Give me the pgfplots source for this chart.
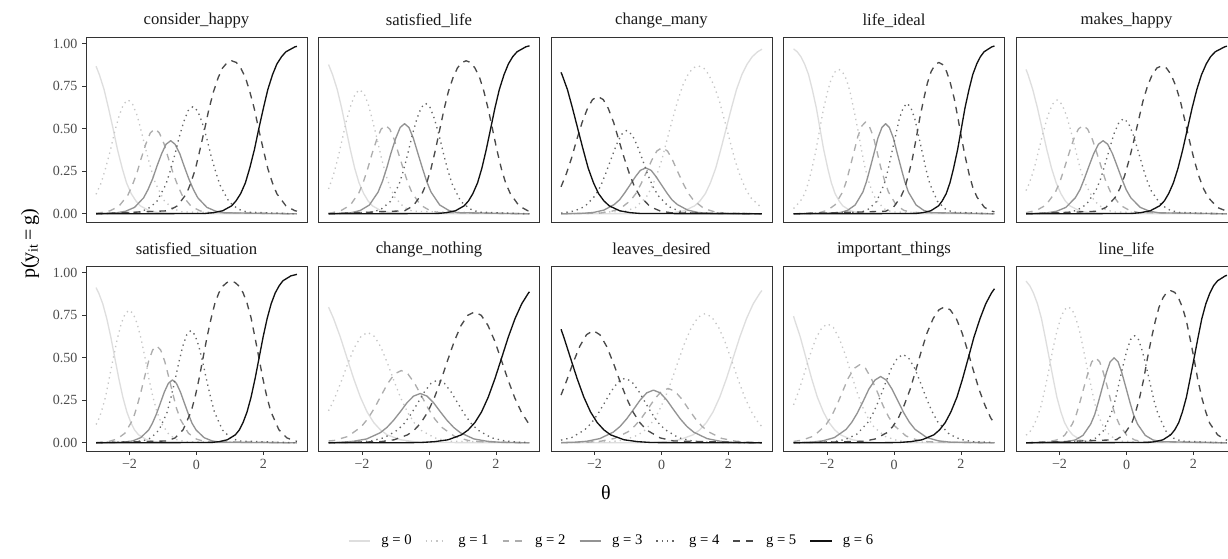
\documentclass[border=0pt]{standalone}
\usepackage{fontspec}
\setmainfont{Liberation Serif}
\usepackage{pgfplots}
\pgfplotsset{compat=1.18}

\definecolor{c0}{HTML}{DEDEDE}
\definecolor{c1}{HTML}{C6C6C6}
\definecolor{c2}{HTML}{ADADAD}
\definecolor{c3}{HTML}{939393}
\definecolor{c4}{HTML}{666666}
\definecolor{c5}{HTML}{4A4A4A}
\definecolor{c6}{HTML}{111111}

\tikzset{
  gl/.style={line width=1pt, line join=round},
  g0/.style={gl, c0},
  g1/.style={gl, c1, dash pattern=on 1pt off 3pt},
  g2/.style={gl, c2, dash pattern=on 5pt off 4.5pt},
  g3/.style={gl, c3},
  g4/.style={gl, c4, dash pattern=on 1pt off 3pt},
  g5/.style={gl, c5, dash pattern=on 5pt off 4.5pt},
  g6/.style={gl, c6},
}

\pgfplotsset{
  panel/.style={
    scale only axis, width=165.75pt, height=138.75pt,
    xmin=-3.3, xmax=3.3, ymin=-0.048, ymax=1.04,
    axis line style={draw=black!80, line width=0.6pt},
    tick pos=left, tick align=outside, major tick length=3pt,
    tick style={black!80, line width=0.5pt},
    xtick={-2,0,2}, xticklabels={−2,0,2},
    ytick={0,0.25,0.5,0.75,1}, yticklabels={0.00,0.25,0.50,0.75,1.00},
    ticklabel style={font=\fontsize{10.5}{12}\selectfont, text=black!70},
    /pgf/number format/assume math mode=true,
    title style={at={(0.5,1)}, anchor=center, yshift=6pt, inner sep=0pt,
      font=\fontsize{12.5}{14}\selectfont, text=black!90},
    clip=false,
  },
  noxt/.style={xtick=\empty},
  noyt/.style={ytick=\empty},
}

\begin{document}
\begin{tikzpicture}
\path[use as bounding box] (0,0) rectangle (921pt,419.25pt);

% ---------------- row 1 ----------------
\begin{axis}[panel, noxt, at={(64.5pt,391.5pt)}, anchor=north west, title={consider\_happy}]
\addplot[g0] coordinates {(-3,.868)(-2.90,.818)(-2.76,.731)(-2.63,.623)(-2.49,.5)(-2.36,.378)(-2.22,.269)(-2.09,.182)(-1.95,.119)(-1.81,.076)(-1.68,.047)(-1.41,.018)(-1.14,.007)(-0.87,.002)(3,0)};
\addplot[g1] coordinates {(-3,.115)(-2.85,.181)(-2.72,.265)(-2.58,.367)(-2.45,.478)(-2.31,.577)(-2.18,.645)(-2.04,.670)(-1.91,.645)(-1.77,.577)(-1.64,.478)(-1.50,.367)(-1.36,.265)(-1.23,.181)(-0.96,.076)(-0.69,.029)(-0.42,.011)(3,0)};
\addplot[g2] coordinates {(-3,.004)(-2.86,.007)(-2.59,.017)(-2.32,.044)(-2.05,.110)(-1.92,.166)(-1.78,.240)(-1.65,.327)(-1.51,.412)(-1.38,.476)(-1.24,.500)(-1.11,.476)(-0.97,.412)(-0.84,.327)(-0.70,.240)(-0.56,.166)(-0.43,.110)(-0.16,.044)(0.11,.017)(0.38,.007)(3,0)};
\addplot[g3] coordinates {(-3,.001)(-2.39,.006)(-2.12,.015)(-1.85,.038)(-1.58,.094)(-1.45,.142)(-1.31,.206)(-1.18,.281)(-1.04,.354)(-0.91,.409)(-0.77,.430)(-0.64,.409)(-0.50,.354)(-0.37,.281)(-0.23,.206)(-0.09,.142)(0.04,.094)(0.31,.038)(0.58,.015)(0.85,.006)(3,0)};
\addplot[g4] coordinates {(-3,0)(-1.73,.010)(-1.46,.028)(-1.19,.071)(-0.92,.170)(-0.79,.249)(-0.65,.345)(-0.52,.449)(-0.38,.542)(-0.25,.607)(-0.11,.630)(0.03,.607)(0.16,.542)(0.30,.449)(0.43,.345)(0.57,.249)(0.70,.170)(0.97,.071)(1.24,.028)(1.51,.010)(3,0)};
\addplot[g5] coordinates {(-3,0)(-0.84,.018)(-0.57,.047)(-0.30,.118)(-0.17,.181)(-0.03,.266)(0.10,.374)(0.24,.495)(0.37,.615)(0.51,.720)(0.65,.802)(0.78,.858)(0.92,.890)(1.05,.900)(1.19,.890)(1.32,.858)(1.46,.802)(1.59,.720)(1.73,.615)(1.86,.495)(2.00,.374)(2.13,.266)(2.27,.181)(2.40,.118)(2.67,.047)(2.94,.018)(3,.016)};
\addplot[g6] coordinates {(-3,0)(0.24,.002)(0.51,.007)(0.78,.018)(1.05,.047)(1.18,.076)(1.32,.119)(1.46,.182)(1.59,.269)(1.73,.378)(1.86,.5)(2.00,.623)(2.13,.731)(2.27,.818)(2.40,.881)(2.54,.924)(2.67,.953)(2.94,.982)(3,.985)};
\end{axis}

\begin{axis}[panel, noxt, noyt, at={(238.875pt,391.5pt)}, anchor=north west, title={satisfied\_life}]
\addplot[g0] coordinates {(-3,.878)(-2.88,.818)(-2.74,.731)(-2.61,.623)(-2.48,.5)(-2.35,.378)(-2.22,.269)(-2.09,.182)(-1.95,.119)(-1.82,.076)(-1.69,.047)(-1.43,.018)(-1.16,.007)(-0.90,.002)(3,0)};
\addplot[g1] coordinates {(-3,.146)(-2.86,.224)(-2.73,.320)(-2.60,.431)(-2.47,.545)(-2.33,.642)(-2.20,.707)(-2.07,.730)(-1.94,.707)(-1.81,.642)(-1.68,.545)(-1.54,.431)(-1.41,.320)(-1.28,.224)(-1.15,.150)(-1.02,.097)(-0.75,.039)(-0.49,.015)(3,0)};
\addplot[g2] coordinates {(-3,.004)(-2.88,.007)(-2.62,.020)(-2.35,.051)(-2.09,.125)(-1.96,.187)(-1.83,.266)(-1.70,.354)(-1.56,.438)(-1.43,.498)(-1.30,.520)(-1.17,.498)(-1.04,.438)(-0.91,.354)(-0.77,.266)(-0.64,.187)(-0.51,.125)(-0.25,.051)(0.02,.020)(0.28,.007)(3,0)};
\addplot[g3] coordinates {(-3,0)(-2.31,.007)(-2.05,.020)(-1.78,.052)(-1.52,.128)(-1.39,.191)(-1.26,.271)(-1.13,.361)(-0.99,.446)(-0.86,.508)(-0.73,.530)(-0.60,.508)(-0.47,.446)(-0.34,.361)(-0.20,.271)(-0.07,.191)(0.06,.128)(0.32,.052)(0.59,.020)(0.85,.007)(3,0)};
\addplot[g4] coordinates {(-3,0)(-1.68,.010)(-1.42,.029)(-1.15,.073)(-0.89,.176)(-0.76,.257)(-0.63,.356)(-0.50,.463)(-0.36,.560)(-0.23,.626)(-0.10,.650)(0.03,.626)(0.16,.560)(0.30,.463)(0.43,.356)(0.56,.257)(0.69,.176)(0.95,.073)(1.22,.029)(1.48,.010)(3,0)};
\addplot[g5] coordinates {(-3,0)(-0.73,.018)(-0.47,.047)(-0.21,.118)(-0.07,.181)(0.06,.266)(0.19,.374)(0.32,.495)(0.45,.615)(0.58,.720)(0.72,.802)(0.85,.858)(0.98,.890)(1.11,.900)(1.24,.890)(1.37,.858)(1.51,.802)(1.64,.720)(1.77,.615)(1.90,.495)(2.03,.374)(2.16,.266)(2.29,.181)(2.43,.118)(2.69,.047)(2.95,.018)(3,.016)};
\addplot[g6] coordinates {(-3,0)(0.26,.002)(0.52,.007)(0.79,.018)(1.05,.047)(1.18,.076)(1.31,.119)(1.45,.182)(1.58,.269)(1.71,.378)(1.84,.5)(1.97,.623)(2.10,.731)(2.24,.818)(2.37,.881)(2.50,.924)(2.63,.953)(2.89,.982)(3,.988)};
\end{axis}

\begin{axis}[panel, noxt, noyt, at={(413.25pt,391.5pt)}, anchor=north west, title={change\_many}]
\addplot[g0] coordinates {(-3,0)(0.06,.002)(0.37,.007)(0.68,.018)(0.99,.047)(1.15,.076)(1.31,.119)(1.46,.182)(1.62,.269)(1.77,.378)(1.93,.5)(2.09,.623)(2.24,.731)(2.40,.818)(2.56,.881)(2.71,.924)(2.87,.953)(3,.968)};
\addplot[g1] coordinates {(-3,0)(-1.09,.015)(-0.78,.037)(-0.46,.096)(-0.31,.148)(-0.15,.222)(0.01,.318)(0.16,.431)(0.32,.551)(0.48,.662)(0.63,.753)(0.79,.819)(0.94,.858)(1.10,.870)(1.26,.858)(1.41,.819)(1.57,.753)(1.73,.662)(1.88,.551)(2.04,.431)(2.19,.318)(2.35,.222)(2.51,.148)(2.66,.096)(2.98,.037)(3,.036)};
\addplot[g2] coordinates {(-3,0)(-1.86,.004)(-1.54,.012)(-1.23,.031)(-0.92,.079)(-0.76,.121)(-0.61,.177)(-0.45,.245)(-0.29,.316)(-0.14,.369)(0.02,.390)(0.18,.369)(0.33,.316)(0.49,.245)(0.65,.177)(0.80,.121)(0.96,.079)(1.27,.031)(1.58,.012)(1.90,.004)(3,0)};
\addplot[g3] coordinates {(-3,0)(-2.35,.003)(-2.03,.008)(-1.72,.022)(-1.41,.055)(-1.25,.083)(-1.10,.123)(-0.94,.170)(-0.78,.218)(-0.63,.256)(-0.47,.270)(-0.31,.256)(-0.16,.218)(0.00,.170)(0.16,.123)(0.31,.083)(0.47,.055)(0.78,.022)(1.09,.008)(1.41,.003)(3,0)};
\addplot[g4] coordinates {(-3,.005)(-2.92,.006)(-2.60,.017)(-2.29,.043)(-1.98,.107)(-1.82,.162)(-1.67,.235)(-1.51,.320)(-1.35,.404)(-1.20,.466)(-1.04,.490)(-0.88,.466)(-0.73,.404)(-0.57,.320)(-0.42,.235)(-0.26,.162)(-0.10,.107)(0.21,.043)(0.52,.017)(0.84,.006)(3,0)};
\addplot[g5] coordinates {(-3,.159)(-2.84,.237)(-2.68,.332)(-2.53,.437)(-2.37,.538)(-2.21,.620)(-2.06,.672)(-1.90,.690)(-1.74,.672)(-1.59,.620)(-1.43,.538)(-1.28,.437)(-1.12,.332)(-0.96,.237)(-0.81,.161)(-0.65,.106)(-0.34,.042)(-0.03,.016)(0.29,.006)(3,0)};
\addplot[g6] coordinates {(-3,.832)(-2.97,.818)(-2.81,.731)(-2.66,.623)(-2.50,.5)(-2.34,.378)(-2.19,.269)(-2.03,.182)(-1.88,.119)(-1.72,.076)(-1.56,.047)(-1.25,.018)(-0.94,.007)(-0.63,.002)(3,0)};
\end{axis}

\begin{axis}[panel, noxt, noyt, at={(587.625pt,391.5pt)}, anchor=north west, title={life\_ideal}]
\addplot[g0] coordinates {(-3,.970)(-2.89,.953)(-2.78,.924)(-2.67,.881)(-2.55,.818)(-2.44,.731)(-2.32,.623)(-2.21,.5)(-2.10,.378)(-1.98,.269)(-1.87,.182)(-1.76,.119)(-1.64,.076)(-1.53,.047)(-1.30,.018)(-1.07,.007)(-0.85,.002)(3,0)};
\addplot[g1] coordinates {(-3,.031)(-2.79,.076)(-2.67,.118)(-2.56,.181)(-2.45,.267)(-2.33,.374)(-2.22,.495)(-2.11,.613)(-1.99,.715)(-1.88,.790)(-1.76,.835)(-1.65,.850)(-1.54,.835)(-1.42,.790)(-1.31,.715)(-1.20,.613)(-1.08,.495)(-0.97,.374)(-0.86,.267)(-0.74,.181)(-0.63,.118)(-0.51,.076)(-0.29,.029)(-0.06,.011)(3,0)};
\addplot[g2] coordinates {(-3,0)(-2.21,.008)(-1.99,.021)(-1.76,.053)(-1.53,.130)(-1.42,.194)(-1.31,.276)(-1.19,.368)(-1.08,.455)(-0.96,.517)(-0.85,.540)(-0.74,.517)(-0.62,.455)(-0.51,.368)(-0.40,.276)(-0.28,.194)(-0.17,.130)(0.06,.053)(0.29,.021)(0.51,.008)(3,0)};
\addplot[g3] coordinates {(-3,0)(-1.61,.007)(-1.39,.020)(-1.16,.052)(-0.93,.128)(-0.82,.191)(-0.71,.271)(-0.59,.361)(-0.48,.446)(-0.36,.508)(-0.25,.530)(-0.14,.508)(-0.02,.446)(0.09,.361)(0.21,.271)(0.32,.191)(0.43,.128)(0.66,.052)(0.89,.020)(1.11,.007)(3,0)};
\addplot[g4] coordinates {(-3,0)(-0.97,.010)(-0.75,.029)(-0.52,.073)(-0.29,.176)(-0.18,.257)(-0.07,.356)(0.05,.463)(0.16,.560)(0.28,.626)(0.39,.650)(0.50,.626)(0.62,.560)(0.73,.463)(0.85,.356)(0.96,.257)(1.07,.176)(1.30,.073)(1.53,.029)(1.75,.010)(3,0)};
\addplot[g5] coordinates {(-3,0)(-0.25,.015)(-0.02,.038)(0.20,.098)(0.32,.151)(0.43,.227)(0.55,.325)(0.66,.441)(0.77,.563)(0.89,.677)(1.00,.771)(1.11,.837)(1.23,.878)(1.34,.890)(1.45,.878)(1.57,.837)(1.68,.771)(1.80,.677)(1.91,.563)(2.02,.441)(2.14,.325)(2.25,.227)(2.36,.151)(2.48,.098)(2.70,.038)(2.93,.015)(3,.012)};
\addplot[g6] coordinates {(-3,0)(0.65,.002)(0.87,.007)(1.10,.018)(1.33,.047)(1.44,.076)(1.56,.119)(1.67,.182)(1.78,.269)(1.90,.378)(2.01,.5)(2.12,.623)(2.24,.731)(2.35,.818)(2.47,.881)(2.58,.924)(2.69,.953)(2.92,.982)(3,.987)};
\end{axis}

\begin{axis}[panel, noxt, noyt, at={(762pt,391.5pt)}, anchor=north west, title={makes\_happy}]
\addplot[g0] coordinates {(-3,.849)(-2.94,.818)(-2.80,.731)(-2.66,.623)(-2.52,.5)(-2.38,.378)(-2.24,.269)(-2.10,.182)(-1.96,.119)(-1.83,.076)(-1.69,.047)(-1.41,.018)(-1.13,.007)(-0.85,.002)(3,0)};
\addplot[g1] coordinates {(-3,.137)(-2.90,.181)(-2.76,.265)(-2.63,.367)(-2.49,.478)(-2.35,.577)(-2.21,.645)(-2.07,.670)(-1.93,.645)(-1.79,.577)(-1.65,.478)(-1.51,.367)(-1.38,.265)(-1.24,.181)(-0.96,.076)(-0.68,.029)(-0.40,.011)(3,0)};
\addplot[g2] coordinates {(-3,.007)(-2.69,.020)(-2.41,.051)(-2.13,.125)(-1.99,.187)(-1.86,.266)(-1.72,.354)(-1.58,.438)(-1.44,.498)(-1.30,.520)(-1.16,.498)(-1.02,.438)(-0.88,.354)(-0.74,.266)(-0.61,.187)(-0.47,.125)(-0.19,.051)(0.09,.020)(0.37,.007)(3,0)};
\addplot[g3] coordinates {(-3,0)(-2.37,.006)(-2.09,.015)(-1.81,.038)(-1.53,.094)(-1.39,.142)(-1.26,.206)(-1.12,.281)(-0.98,.354)(-0.84,.409)(-0.70,.430)(-0.56,.409)(-0.42,.354)(-0.28,.281)(-0.14,.206)(-0.01,.142)(0.13,.094)(0.41,.038)(0.69,.015)(0.97,.006)(3,0)};
\addplot[g4] coordinates {(-3,0)(-1.76,.008)(-1.48,.021)(-1.20,.055)(-0.92,.135)(-0.78,.202)(-0.65,.286)(-0.51,.381)(-0.37,.472)(-0.23,.536)(-0.09,.560)(0.05,.536)(0.19,.472)(0.33,.381)(0.47,.286)(0.60,.202)(0.74,.135)(1.02,.055)(1.30,.021)(1.58,.008)(3,0)};
\addplot[g5] coordinates {(-3,0)(-0.89,.015)(-0.62,.037)(-0.34,.096)(-0.20,.148)(-0.06,.222)(0.08,.318)(0.22,.431)(0.36,.551)(0.49,.662)(0.63,.753)(0.77,.819)(0.91,.858)(1.05,.870)(1.19,.858)(1.33,.819)(1.47,.753)(1.61,.662)(1.74,.551)(1.88,.431)(2.02,.318)(2.16,.222)(2.30,.148)(2.44,.096)(2.72,.037)(3,.015)};
\addplot[g6] coordinates {(-3,0)(0.15,.002)(0.43,.007)(0.71,.018)(0.99,.047)(1.13,.076)(1.26,.119)(1.40,.182)(1.54,.269)(1.68,.378)(1.82,.5)(1.96,.623)(2.10,.731)(2.24,.818)(2.38,.881)(2.51,.924)(2.65,.953)(2.93,.982)(3,.986)};
\end{axis}

% ---------------- row 2 ----------------
\begin{axis}[panel, at={(64.5pt,219.75pt)}, anchor=north west, title={satisfied\_situation},
  legend style={at={(2.380,-0.4865)}, anchor=center, draw=none, fill=none,
    legend columns=7, font=\fontsize{11}{13}\selectfont,
    /tikz/every odd column/.append style={column sep=6pt},
    /tikz/every even column/.append style={column sep=8pt}},
  legend image code/.code={\draw[#1] (0pt,0pt) -- (16pt,0pt);}]
\addplot[g0] coordinates {(-3,.913)(-2.92,.881)(-2.80,.818)(-2.68,.731)(-2.56,.623)(-2.44,.5)(-2.32,.378)(-2.20,.269)(-2.08,.182)(-1.96,.119)(-1.85,.076)(-1.73,.047)(-1.49,.018)(-1.25,.007)(-1.01,.002)(3,0)};
\addlegendentry{g = 0}
\addplot[g1] coordinates {(-3,.108)(-2.96,.119)(-2.84,.183)(-2.72,.268)(-2.61,.375)(-2.49,.494)(-2.37,.608)(-2.25,.700)(-2.13,.760)(-2.01,.780)(-1.89,.760)(-1.77,.700)(-1.65,.608)(-1.53,.494)(-1.42,.375)(-1.30,.268)(-1.18,.183)(-1.06,.119)(-0.82,.048)(-0.58,.018)(-0.34,.007)(3,0)};
\addlegendentry{g = 1}
\addplot[g2] coordinates {(-3,.002)(-2.62,.008)(-2.38,.022)(-2.14,.056)(-1.90,.137)(-1.79,.205)(-1.67,.291)(-1.55,.388)(-1.43,.480)(-1.31,.546)(-1.19,.570)(-1.07,.546)(-0.95,.480)(-0.83,.388)(-0.71,.291)(-0.60,.205)(-0.48,.137)(-0.24,.056)(0.00,.022)(0.24,.008)(3,0)};
\addlegendentry{g = 2}
\addplot[g3] coordinates {(-3,0)(-2.15,.004)(-1.91,.011)(-1.67,.030)(-1.43,.075)(-1.32,.114)(-1.20,.168)(-1.08,.233)(-0.96,.299)(-0.84,.350)(-0.72,.370)(-0.60,.350)(-0.48,.299)(-0.36,.233)(-0.24,.168)(-0.13,.114)(-0.01,.075)(0.23,.030)(0.47,.011)(0.71,.004)(3,0)};
\addlegendentry{g = 3}
\addplot[g4] coordinates {(-3,0)(-1.60,.011)(-1.36,.029)(-1.12,.075)(-0.88,.178)(-0.77,.261)(-0.65,.362)(-0.53,.471)(-0.41,.568)(-0.29,.636)(-0.17,.660)(-0.05,.636)(0.07,.568)(0.19,.471)(0.31,.362)(0.43,.261)(0.54,.178)(0.78,.075)(1.02,.029)(1.26,.011)(3,0)};
\addlegendentry{g = 4}
\addplot[g5] coordinates {(-3,0)(-0.88,.011)(-0.64,.029)(-0.40,.077)(-0.16,.184)(-0.04,.271)(0.08,.380)(0.20,.504)(0.32,.627)(0.44,.735)(0.55,.821)(0.67,.883)(0.79,.922)(0.91,.943)(1.03,.950)(1.15,.943)(1.27,.922)(1.39,.883)(1.51,.821)(1.63,.735)(1.74,.627)(1.86,.504)(1.98,.380)(2.10,.271)(2.22,.184)(2.46,.077)(2.70,.029)(2.94,.011)(3,.009)};
\addlegendentry{g = 5}
\addplot[g6] coordinates {(-3,0)(0.44,.002)(0.68,.007)(0.92,.018)(1.16,.047)(1.28,.076)(1.39,.119)(1.51,.182)(1.63,.269)(1.75,.378)(1.87,.5)(1.99,.623)(2.11,.731)(2.23,.818)(2.35,.881)(2.47,.924)(2.58,.953)(2.82,.982)(3,.991)};
\addlegendentry{g = 6}
\end{axis}

\begin{axis}[panel, noyt, at={(238.875pt,219.75pt)}, anchor=north west, title={change\_nothing}]
\addplot[g0] coordinates {(-3,.798)(-2.85,.731)(-2.65,.623)(-2.45,.5)(-2.25,.378)(-2.05,.269)(-1.85,.182)(-1.65,.119)(-1.45,.076)(-1.25,.047)(-0.85,.018)(-0.45,.007)(-0.05,.002)(3,0)};
\addplot[g1] coordinates {(-3,.188)(-2.83,.257)(-2.63,.356)(-2.43,.463)(-2.23,.560)(-2.03,.626)(-1.83,.650)(-1.63,.626)(-1.43,.560)(-1.23,.463)(-1.03,.356)(-0.83,.257)(-0.63,.176)(-0.43,.115)(-0.23,.073)(0.17,.029)(0.57,.010)(3,0)};
\addplot[g2] coordinates {(-3,.011)(-2.83,.014)(-2.43,.037)(-2.03,.093)(-1.83,.141)(-1.63,.204)(-1.43,.278)(-1.23,.350)(-1.03,.405)(-0.83,.425)(-0.63,.405)(-0.43,.350)(-0.23,.278)(-0.03,.204)(0.17,.141)(0.37,.093)(0.77,.037)(1.17,.014)(1.57,.006)(3,0)};
\addplot[g3] coordinates {(-3,.001)(-2.66,.003)(-2.26,.009)(-1.86,.023)(-1.46,.059)(-1.26,.090)(-1.06,.132)(-0.86,.182)(-0.66,.235)(-0.46,.275)(-0.26,.290)(-0.06,.275)(0.14,.235)(0.34,.182)(0.54,.132)(0.74,.090)(0.94,.059)(1.34,.023)(1.74,.009)(2.14,.003)(3,0)};
\addplot[g4] coordinates {(-3,0)(-2.14,.004)(-1.74,.011)(-1.34,.030)(-0.94,.075)(-0.74,.114)(-0.54,.168)(-0.34,.233)(-0.14,.299)(0.06,.350)(0.26,.370)(0.46,.350)(0.66,.299)(0.86,.233)(1.06,.168)(1.26,.114)(1.46,.075)(1.86,.030)(2.26,.011)(2.66,.004)(3,.002)};
\addplot[g5] coordinates {(-3,0)(-1.44,.007)(-1.04,.018)(-0.64,.047)(-0.44,.075)(-0.24,.118)(-0.04,.180)(0.16,.265)(0.36,.370)(0.56,.487)(0.76,.600)(0.96,.691)(1.16,.750)(1.36,.770)(1.56,.750)(1.76,.691)(1.96,.600)(2.16,.487)(2.36,.370)(2.56,.265)(2.76,.180)(2.96,.118)(3,.109)};
\addplot[g6] coordinates {(-3,0)(-0.63,.001)(-0.23,.002)(0.17,.007)(0.57,.018)(0.97,.047)(1.17,.076)(1.37,.119)(1.57,.182)(1.77,.269)(1.97,.378)(2.17,.5)(2.37,.623)(2.57,.731)(2.77,.818)(2.97,.881)(3,.888)};
\end{axis}

\begin{axis}[panel, noyt, at={(413.25pt,219.75pt)}, anchor=north west, title={leaves\_desired}]
\addplot[g0] coordinates {(-3,0)(-0.66,.001)(-0.26,.002)(0.14,.007)(0.54,.018)(0.94,.047)(1.14,.076)(1.34,.119)(1.54,.182)(1.74,.269)(1.94,.378)(2.14,.5)(2.34,.623)(2.54,.731)(2.74,.818)(2.94,.881)(3,.896)};
\addplot[g1] coordinates {(-3,0)(-1.50,.007)(-1.10,.017)(-0.70,.046)(-0.50,.074)(-0.30,.116)(-0.10,.178)(0.10,.261)(0.30,.366)(0.50,.481)(0.70,.592)(0.90,.682)(1.10,.740)(1.30,.760)(1.50,.740)(1.70,.682)(1.90,.592)(2.10,.481)(2.30,.366)(2.50,.261)(2.70,.178)(2.90,.116)(3,.095)};
\addplot[g2] coordinates {(-3,0)(-2.20,.004)(-1.80,.010)(-1.40,.026)(-1.00,.065)(-0.80,.099)(-0.60,.145)(-0.40,.201)(-0.20,.259)(0.00,.303)(0.20,.320)(0.40,.303)(0.60,.259)(0.80,.201)(1.00,.145)(1.20,.099)(1.40,.065)(1.80,.026)(2.20,.010)(2.60,.004)(3,.002)};
\addplot[g3] coordinates {(-3,.002)(-2.64,.003)(-2.24,.009)(-1.84,.025)(-1.44,.063)(-1.24,.096)(-1.04,.141)(-0.84,.195)(-0.64,.251)(-0.44,.294)(-0.24,.310)(-0.04,.294)(0.16,.251)(0.36,.195)(0.56,.141)(0.76,.096)(0.96,.063)(1.36,.025)(1.76,.009)(2.16,.003)(3,0)};
\addplot[g4] coordinates {(-3,.016)(-2.69,.030)(-2.29,.077)(-2.09,.117)(-1.89,.173)(-1.69,.239)(-1.49,.307)(-1.29,.360)(-1.09,.380)(-0.89,.360)(-0.69,.307)(-0.49,.239)(-0.29,.173)(-0.09,.117)(0.11,.077)(0.51,.030)(0.91,.011)(1.31,.004)(3,0)};
\addplot[g5] coordinates {(-3,.281)(-2.84,.362)(-2.64,.471)(-2.44,.568)(-2.24,.636)(-2.04,.660)(-1.84,.636)(-1.64,.568)(-1.44,.471)(-1.24,.362)(-1.04,.261)(-0.84,.178)(-0.64,.117)(-0.44,.075)(-0.04,.029)(0.36,.011)(3,0)};
\addplot[g6] coordinates {(-3,.668)(-2.92,.623)(-2.72,.5)(-2.52,.378)(-2.32,.269)(-2.12,.182)(-1.92,.119)(-1.72,.076)(-1.52,.047)(-1.12,.018)(-0.72,.007)(-0.32,.002)(0.08,.001)(3,0)};
\end{axis}

\begin{axis}[panel, noyt, at={(587.625pt,219.75pt)}, anchor=north west, title={important\_things}]
\addplot[g0] coordinates {(-3,.745)(-2.98,.731)(-2.80,.623)(-2.63,.5)(-2.46,.378)(-2.29,.269)(-2.11,.182)(-1.94,.119)(-1.77,.076)(-1.60,.047)(-1.25,.018)(-0.91,.007)(-0.56,.002)(3,0)};
\addplot[g1] coordinates {(-3,.223)(-2.84,.307)(-2.67,.414)(-2.50,.522)(-2.33,.616)(-2.15,.678)(-1.98,.700)(-1.81,.678)(-1.64,.616)(-1.46,.522)(-1.29,.414)(-1.12,.307)(-0.95,.215)(-0.77,.144)(-0.60,.093)(-0.26,.037)(0.09,.014)(0.43,.005)(3,0)};
\addplot[g2] coordinates {(-3,.008)(-2.74,.016)(-2.40,.040)(-2.05,.101)(-1.88,.152)(-1.71,.220)(-1.54,.300)(-1.37,.379)(-1.19,.438)(-1.02,.460)(-0.85,.438)(-0.68,.379)(-0.50,.300)(-0.33,.220)(-0.16,.152)(0.01,.101)(0.36,.040)(0.70,.016)(1.05,.006)(3,0)};
\addplot[g3] coordinates {(-3,.001)(-2.47,.004)(-2.12,.012)(-1.78,.031)(-1.43,.079)(-1.26,.121)(-1.09,.177)(-0.92,.245)(-0.75,.316)(-0.57,.369)(-0.40,.390)(-0.23,.369)(-0.06,.316)(0.12,.245)(0.29,.177)(0.46,.121)(0.63,.079)(0.98,.031)(1.32,.012)(1.67,.004)(3,0)};
\addplot[g4] coordinates {(-3,0)(-1.80,.007)(-1.45,.020)(-1.11,.051)(-0.76,.125)(-0.59,.187)(-0.42,.266)(-0.25,.354)(-0.08,.438)(0.10,.498)(0.27,.520)(0.44,.498)(0.62,.438)(0.79,.354)(0.96,.266)(1.13,.187)(1.30,.125)(1.65,.051)(1.99,.020)(2.34,.007)(3,.002)};
\addplot[g5] coordinates {(-3,0)(-0.90,.009)(-0.56,.023)(-0.21,.060)(-0.04,.095)(0.13,.146)(0.30,.219)(0.48,.314)(0.65,.426)(0.82,.542)(0.99,.648)(1.17,.731)(1.34,.782)(1.51,.800)(1.68,.782)(1.86,.731)(2.03,.648)(2.20,.542)(2.37,.426)(2.54,.314)(2.72,.219)(2.89,.146)(3,.114)};
\addplot[g6] coordinates {(-3,0)(-0.19,.001)(0.15,.002)(0.50,.007)(0.84,.018)(1.19,.047)(1.36,.076)(1.53,.119)(1.70,.182)(1.88,.269)(2.05,.378)(2.22,.5)(2.39,.623)(2.57,.731)(2.74,.818)(2.91,.881)(3,.906)};
\end{axis}

\begin{axis}[panel, noyt, at={(762pt,219.75pt)}, anchor=north west, title={line\_life}]
\addplot[g0] coordinates {(-3,.951)(-2.89,.924)(-2.78,.881)(-2.66,.818)(-2.54,.731)(-2.43,.623)(-2.31,.5)(-2.19,.378)(-2.08,.269)(-1.96,.182)(-1.85,.119)(-1.73,.076)(-1.61,.047)(-1.38,.018)(-1.15,.007)(-0.92,.002)(3,0)};
\addplot[g1] coordinates {(-3,.045)(-2.90,.060)(-2.79,.095)(-2.67,.146)(-2.55,.219)(-2.44,.314)(-2.32,.426)(-2.21,.542)(-2.09,.648)(-1.97,.731)(-1.86,.782)(-1.74,.800)(-1.62,.782)(-1.51,.731)(-1.39,.648)(-1.28,.542)(-1.16,.426)(-1.04,.314)(-0.93,.219)(-0.81,.146)(-0.69,.095)(-0.58,.060)(-0.35,.023)(-0.11,.009)(3,0)};
\addplot[g2] coordinates {(-3,0)(-2.32,.007)(-2.08,.017)(-1.85,.044)(-1.62,.110)(-1.50,.166)(-1.39,.240)(-1.27,.327)(-1.15,.412)(-1.04,.476)(-0.92,.500)(-0.80,.476)(-0.69,.412)(-0.57,.327)(-0.46,.240)(-0.34,.166)(-0.22,.110)(0.01,.044)(0.24,.017)(0.48,.007)(3,0)};
\addplot[g3] coordinates {(-3,0)(-1.77,.007)(-1.53,.017)(-1.30,.044)(-1.07,.110)(-0.95,.166)(-0.84,.240)(-0.72,.327)(-0.60,.412)(-0.49,.476)(-0.37,.500)(-0.25,.476)(-0.14,.412)(-0.02,.327)(0.10,.240)(0.21,.166)(0.33,.110)(0.56,.044)(0.79,.017)(1.03,.007)(3,0)};
\addplot[g4] coordinates {(-3,0)(-1.16,.010)(-0.92,.028)(-0.69,.071)(-0.46,.170)(-0.34,.249)(-0.23,.345)(-0.11,.449)(0.01,.542)(0.12,.607)(0.24,.630)(0.36,.607)(0.47,.542)(0.59,.449)(0.71,.345)(0.82,.249)(0.94,.170)(1.17,.071)(1.40,.028)(1.64,.010)(3,0)};
\addplot[g5] coordinates {(-3,0)(-0.31,.018)(-0.08,.047)(0.16,.117)(0.27,.180)(0.39,.265)(0.51,.371)(0.62,.492)(0.74,.611)(0.86,.716)(0.97,.797)(1.09,.853)(1.20,.885)(1.32,.895)(1.44,.885)(1.55,.853)(1.67,.797)(1.79,.716)(1.90,.611)(2.02,.492)(2.13,.371)(2.25,.265)(2.37,.180)(2.48,.117)(2.72,.047)(2.95,.018)(3,.016)};
\addplot[g6] coordinates {(-3,0)(0.63,.002)(0.86,.007)(1.09,.018)(1.32,.047)(1.44,.076)(1.56,.119)(1.67,.182)(1.79,.269)(1.90,.378)(2.02,.5)(2.14,.623)(2.25,.731)(2.37,.818)(2.49,.881)(2.60,.924)(2.72,.953)(2.95,.982)(3,.985)};
\end{axis}

% axis titles
\node[font=\fontsize{15}{17}\selectfont] at (454.5pt,49.5pt) {θ};
\node[rotate=90, font=\fontsize{15}{17}\selectfont] at (22.5pt,236.25pt) {p(y\textsubscript{it}\,=\,g)};
\end{tikzpicture}
\end{document}
